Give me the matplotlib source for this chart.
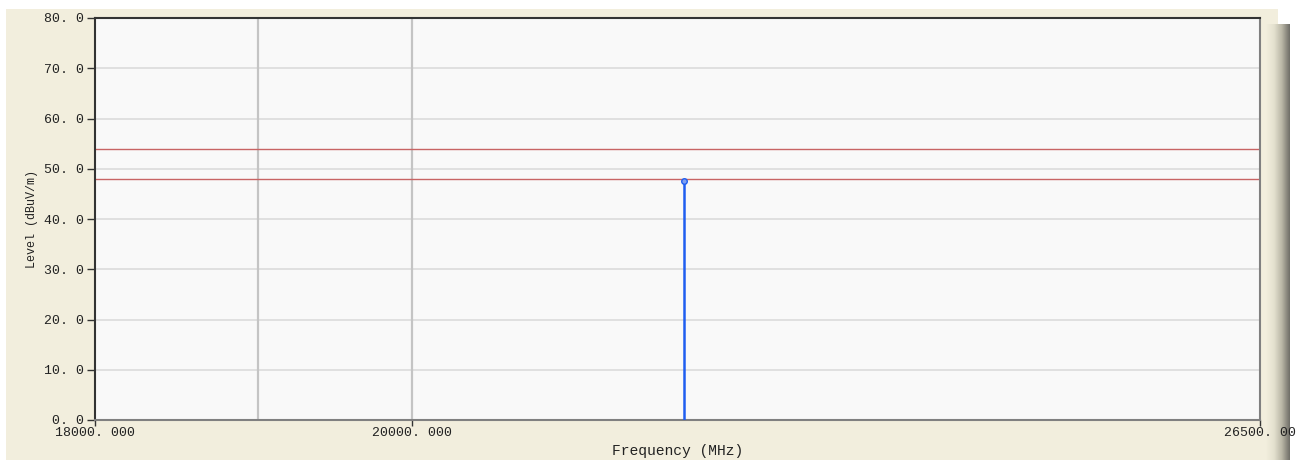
import matplotlib
matplotlib.use("Agg")
import matplotlib.pyplot as plt
import numpy as np

# data
freq_mhz = [21890.0]
level_dbuv = [47.6]
limit_levels = [54.0, 48.0]
grid_freqs = [19000.0, 20000.0]
x_ticks = [18000.0, 20000.0, 26500.0]
x_tick_labels = ["18000. 000", "20000. 000", "26500. 00"]
y_ticks = [0, 10, 20, 30, 40, 50, 60, 70, 80]
y_tick_labels = ["%d. 0" % v for v in y_ticks]

W, H = 1301, 462
fig = plt.figure(figsize=(W / 100, H / 100), dpi=100)
fig.patch.set_facecolor("white")

# beige panel behind the chart, with a shaded right edge
bg = fig.add_axes([0, 0, 1, 1], zorder=0)
bg.add_patch(plt.Rectangle((6, 9), 1260, 451, color="#f2eedd", lw=0, zorder=0))
shade = np.linspace(0, 1, 64)[None, :]
cmap = matplotlib.colors.LinearSegmentedColormap.from_list("edge", ["#f2eedd", "#e4e1cf", "#b9b6a6", "#6f6e68"])
bg.imshow(shade, extent=(1266, 1290, 460, 24), aspect="auto", cmap=cmap, zorder=1)
bg.add_patch(plt.Rectangle((1266, 9), 12, 15, color="#f2eedd", lw=0, zorder=1))
bg.set_xlim(0, W)
bg.set_ylim(H, 0)
bg.axis("off")

ax = fig.add_axes([95 / W, 1 - 420 / H, 1165 / W, 402 / H], zorder=1)
ax.set_facecolor("#f9f9f9")
ax.set_xscale("log")
ax.set_xlim(18000, 26500)
ax.set_ylim(0, 80)

for y in y_ticks[1:-1]:
    ax.axhline(y, color="#dcdcdc", lw=1.2, zorder=1)
for f in grid_freqs:
    ax.axvline(f, color="#c4c4c4", lw=1.6, zorder=1)
for lim in limit_levels:
    ax.axhline(lim, color="#c86464", lw=1.0, zorder=2)

ax.vlines(freq_mhz, 0, level_dbuv, color="#1f5ef0", lw=1.8, zorder=3)
ax.plot(freq_mhz, level_dbuv, ls="none", marker="o", ms=4, mfc="#7fa0f0", mec="#1f5ef0", mew=1.0, zorder=4)

ax.xaxis.set_minor_locator(matplotlib.ticker.NullLocator())
ax.set_xticks(x_ticks)
ax.set_xticklabels(x_tick_labels)
ax.set_yticks(y_ticks)
ax.set_yticklabels(y_tick_labels)

mono = "Liberation Mono"
ax.tick_params(axis="y", direction="out", length=6, width=1, color="#333333", labelsize=9.5, pad=2)
ax.tick_params(axis="x", direction="out", length=4, width=1, color="#333333", labelsize=9.5, pad=1)
for lab in ax.get_xticklabels() + ax.get_yticklabels():
    lab.set_fontfamily(mono)
    lab.set_color("#222222")

ax.set_xlabel("Frequency (MHz)", fontfamily=mono, fontsize=10.5, labelpad=4, color="#222222")
ax.set_ylabel("Level (dBuV/m)", fontfamily=mono, fontsize=8.5, labelpad=4, color="#222222")

ax.spines["left"].set_color("#333333")
ax.spines["top"].set_color("#333333")
ax.spines["bottom"].set_color("#808080")
ax.spines["right"].set_color("#808080")
for s in ax.spines.values():
    s.set_linewidth(1.5)

fig.savefig("out.png", dpi=100)
